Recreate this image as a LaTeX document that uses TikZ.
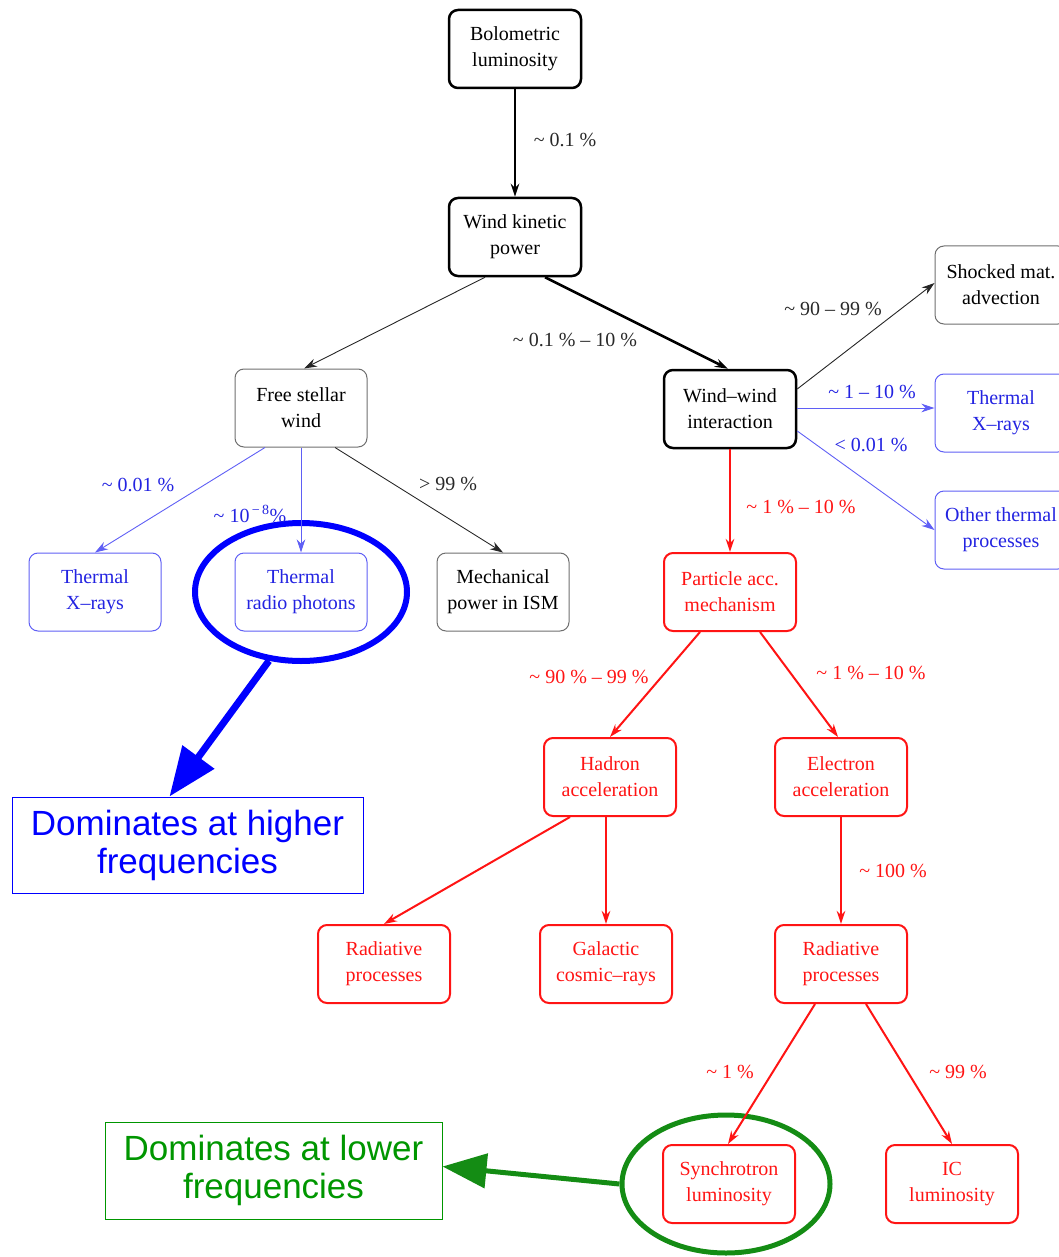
\documentclass[tikz,border=0pt]{standalone}
\usepackage{fontspec}
\setmainfont{Liberation Serif}
\newfontfamily\bigsans{Liberation Sans}
\usetikzlibrary{arrows.meta,shapes.geometric}
\definecolor{mblue}{RGB}{35,35,225}
\definecolor{lblue}{RGB}{95,95,245}
\definecolor{mred}{RGB}{255,20,20}
\definecolor{mgreen}{RGB}{20,140,20}
\definecolor{tgreen}{RGB}{0,150,0}
\definecolor{gline}{RGB}{110,110,110}
\definecolor{ltxt}{RGB}{40,40,40}
\tikzset{
  box/.style={rounded corners=9pt, minimum width=132pt, minimum height=78pt, align=center,
    font=\fontsize{20}{26}\selectfont, inner sep=0pt},
  thickbox/.style={box, draw=black, line width=2.5pt},
  thinbox/.style={box, draw=gline, line width=1pt},
  bluebox/.style={box, draw=lblue, line width=1pt, text=mblue},
  redbox/.style={box, draw=mred, line width=2pt, text=mred},
  arr/.style={-{Stealth[length=13pt,width=8.5pt]}},
  thickarr/.style={arr, line width=2.5pt, black},
  thinarr/.style={arr, line width=0.9pt, black!85},
  bluearr/.style={arr, line width=0.9pt, lblue},
  redarr/.style={arr, line width=2pt, mred},
  lbl/.style={font=\fontsize{20}{24}\selectfont, inner sep=1pt, text=ltxt},
  bigbox/.style={rectangle, draw, line width=1pt, align=center, inner sep=0pt,
    font=\bigsans\fontsize{35}{38}\selectfont},
}
\begin{document}
\begin{tikzpicture}[x=1pt,y=-1pt]
\useasboundingbox (0,0) rectangle (1059,1257);
\clip (0,0) rectangle (1059,1257);
% main nodes
\node[thickbox] (bol) at (515,49) {Bolometric\\luminosity};
\node[thickbox] (wk) at (515,237) {Wind kinetic\\power};
\node[thinbox] (fs) at (301,408) {Free stellar\\wind};
\node[thickbox] (ww) at (730,409) {Wind--wind\\interaction};
\node[thinbox] (sh) at (1001,285) {Shocked mat.\\advection};
\node[bluebox] (tx2) at (1001,413) {Thermal\\X--rays};
\node[bluebox] (oth) at (1001,530) {Other thermal\\processes};
\node[redbox] (pa) at (730,592) {Particle acc.\\mechanism};
\node[bluebox] (tx1) at (95,592) {Thermal\\X--rays};
\node[bluebox] (trp) at (301,592) {Thermal\\radio photons};
\node[thinbox] (mech) at (503,592) {Mechanical\\power in ISM};
\node[redbox] (had) at (610,777) {Hadron\\acceleration};
\node[redbox] (ele) at (841,777) {Electron\\acceleration};
\node[redbox] (rad1) at (384,964) {Radiative\\processes};
\node[redbox] (gcr) at (606,964) {Galactic\\cosmic--rays};
\node[redbox] (rad2) at (841,964) {Radiative\\processes};
\node[redbox] (syn) at (729,1184) {Synchrotron\\luminosity};
\node[redbox] (ic) at (952,1184) {IC\\luminosity};
% highlight
\node[ellipse, draw=blue, line width=6pt, minimum width=212pt, minimum height=138pt, inner sep=0pt] (e1) at (301,592) {};
\node[ellipse, draw=mgreen, line width=5pt, minimum width=208pt, minimum height=138pt, inner sep=0pt] (e2) at (726,1184) {};
\node[bigbox, draw=blue, text=blue, minimum width=351pt, minimum height=96pt] (hi) at (187.5,845) {Dominates at higher\\frequencies};
\node[bigbox, draw=tgreen, text=tgreen, minimum width=337pt, minimum height=97pt] (lo) at (273.5,1170.5) {Dominates at lower\\frequencies};
% connectors
\draw[thickarr] (bol.south) -- (wk.north);
\draw[thinarr] ([xshift=-30pt]wk.south) -- ([xshift=3pt]fs.north);
\draw[thickarr] ([xshift=30pt]wk.south) -- ([xshift=-2pt]ww.north);
\draw[bluearr] ([xshift=-36pt]fs.south) -- (tx1.north);
\draw[bluearr] (fs.south) -- (trp.north);
\draw[thinarr] ([xshift=34pt]fs.south) -- (mech.north);
\draw[thinarr] ([yshift=20pt]ww.east) -- ([yshift=2pt]sh.west);
\draw[bluearr] ([yshift=1pt]ww.east) -- ([yshift=5pt]tx2.west);
\draw[bluearr] ([yshift=-22pt]ww.east) -- (oth.west);
\draw[redarr, line width=2.5pt] (ww.south) -- (pa.north);
\draw[redarr] ([xshift=-30pt]pa.south) -- (had.north);
\draw[redarr] ([xshift=30pt]pa.south) -- ([xshift=-3pt]ele.north);
\draw[redarr] ([xshift=-40pt]had.south) -- (rad1.north);
\draw[redarr, line width=2.5pt] (had.south -| gcr.north) -- (gcr.north);
\draw[redarr, line width=2.5pt] (ele.south) -- (rad2.north);
\draw[redarr] ([xshift=-26pt]rad2.south) -- ([xshift=-1pt]syn.north);
\draw[redarr] ([xshift=25pt]rad2.south) -- (ic.north);
\draw[blue, line width=7pt, -{Triangle[length=49pt,width=38pt]}] (e1.-115) -- ([xshift=-18pt]hi.north);
\draw[mgreen, line width=5pt, -{Triangle[length=44pt,width=34pt]}] (e2.west) -- ([yshift=4pt]lo.east);
% labels
\node[lbl] (l1) at (565,140) {\textasciitilde{} 0.1 \%};
\node[lbl] (l2) at (575,340) {\textasciitilde{} 0.1 \% -- 10 \%};
\node[lbl, text=mblue] (l3) at (138,485) {\textasciitilde{} 0.01 \%};
\node[lbl, text=mblue] (l4) at (250,514) {\textasciitilde{} 10\textsuperscript{\,−\,8}\%};
\node[lbl] (l5) at (448,484) {> 99 \%};
\node[lbl] (l6) at (833,309) {\textasciitilde{} 90 -- 99 \%};
\node[lbl, text=mblue] (l7) at (872,392) {\textasciitilde{} 1 -- 10 \%};
\node[lbl, text=mblue] (l8) at (871,445) {< 0.01 \%};
\node[lbl, text=mred] (l9) at (801,507) {\textasciitilde{} 1 \% -- 10 \%};
\node[lbl, text=mred] (l10) at (589,677) {\textasciitilde{} 90 \% -- 99 \%};
\node[lbl, text=mred] (l11) at (871,673) {\textasciitilde{} 1 \% -- 10 \%};
\node[lbl, text=mred] (l12) at (893,871) {\textasciitilde{} 100 \%};
\node[lbl, text=mred] (l13) at (730,1072) {\textasciitilde{} 1 \%};
\node[lbl, text=mred] (l14) at (958,1072) {\textasciitilde{} 99 \%};
\end{tikzpicture}
\end{document}
